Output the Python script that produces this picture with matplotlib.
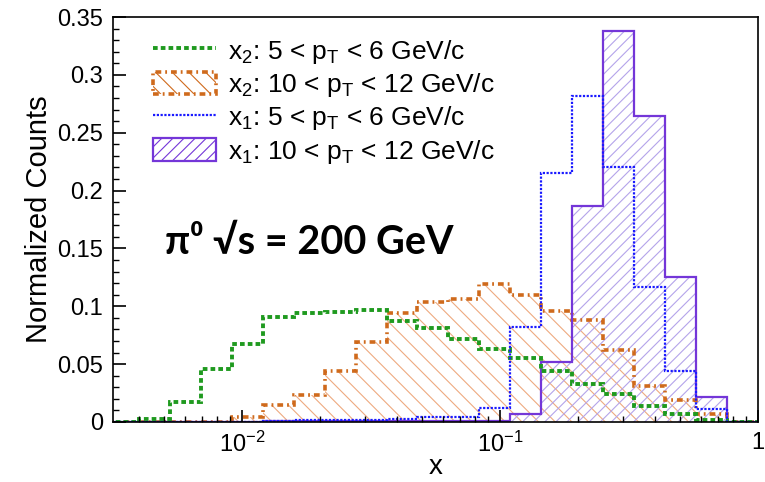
import numpy as np
import matplotlib
matplotlib.use("Agg")
import matplotlib.pyplot as plt
from matplotlib.lines import Line2D
from matplotlib.patches import Patch

plt.rcParams['font.family'] = ['Liberation Sans', 'DejaVu Sans']
plt.rcParams['mathtext.fontset'] = 'custom'
plt.rcParams['mathtext.rm'] = 'Liberation Sans'
plt.rcParams['mathtext.it'] = 'Liberation Sans'
plt.rcParams['hatch.linewidth'] = 0.8

# log-uniform binning, 0.12 decades per bin
edges = 10 ** np.linspace(-2.52, 0, 22)

# x2 (away side), 5 < pT < 6
x2_low = [0, 0.003, 0.017, 0.046, 0.067, 0.091, 0.094, 0.095, 0.097, 0.087, 0.081,
          0.072, 0.063, 0.055, 0.044, 0.033, 0.024, 0.014, 0.007, 0.002, 0.0]
# x2, 10 < pT < 12
x2_high = [0, 0, 0, 0, 0.0043, 0.0145, 0.023, 0.044, 0.069, 0.094, 0.104,
           0.106, 0.119, 0.110, 0.096, 0.088, 0.062, 0.031, 0.019, 0.0073, 0.0]
# x1 (trigger side), 5 < pT < 6
x1_low = [0, 0, 0, 0, 0, 0.001, 0.0015, 0.002, 0.002, 0.003, 0.004,
          0.004, 0.0125, 0.082, 0.215, 0.282, 0.220, 0.117, 0.044, 0.0116, 0]
# x1, 10 < pT < 12
x1_high = [0, 0, 0, 0, 0, 0.001, 0.001, 0.001, 0.001, 0.001, 0.001,
           0.001, 0.0005, 0.0072, 0.052, 0.1865, 0.338, 0.2645, 0.125, 0.0217, 0]

labels = [r"x$_2$: 5 < p$_T$ < 6 GeV/c",
          r"x$_2$: 10 < p$_T$ < 12 GeV/c",
          r"x$_1$: 5 < p$_T$ < 6 GeV/c",
          r"x$_1$: 10 < p$_T$ < 12 GeV/c"]

yticks = [0, 0.05, 0.1, 0.15, 0.2, 0.25, 0.3, 0.35]
yticklabels = ["0", "0.05", "0.1", "0.15", "0.2", "0.25", "0.3", "0.35"]

green = "#1f9a1f"
orange = "#cf6a1c"
orange_hatch = "#eeaa80"
blue = "#1a1aff"
purple = "#7436d8"
purple_hatch = "#b4a4ea"

green_ls = (0, (1.2, 0.8))
orange_ls = (0, (1.6, 1.1, 0.5, 1.1))
blue_ls = (0, (1, 0.7))

fig = plt.figure(figsize=(7.65, 4.82), dpi=100)
ax = fig.add_axes([0.1477, 0.1245, 0.8433, 0.8402])

# hatched fills first, outlines on top
ax.stairs(x2_high, edges, fill=True, facecolor='none', edgecolor=orange_hatch,
          hatch='\\\\', linewidth=0)
ax.stairs(x1_high, edges, fill=True, facecolor='none', edgecolor=purple_hatch,
          hatch='///', linewidth=0)

ax.stairs(x2_high, edges, color=orange, linewidth=2.6, linestyle=orange_ls)
ax.stairs(x1_high, edges, color=purple, linewidth=1.6)
ax.stairs(x2_low, edges, color=green, linewidth=2.8, linestyle=green_ls)
ax.stairs(x1_low, edges, color=blue, linewidth=1.6, linestyle=blue_ls)

ax.set_xscale('log')
ax.set_xlim(10 ** -2.5, 1)
ax.set_ylim(0, 0.35)
ax.set_yticks(yticks)
ax.set_yticklabels(yticklabels)
ax.yaxis.set_minor_locator(matplotlib.ticker.MultipleLocator(0.01))
ax.set_xticks([0.01, 0.1, 1])
ax.set_xticklabels([r"$10^{-2}$", r"$10^{-1}$", "1"])
ax.xaxis.set_minor_locator(matplotlib.ticker.LogLocator(base=10, subs=np.arange(2, 10)))
ax.xaxis.set_minor_formatter(matplotlib.ticker.NullFormatter())

ax.tick_params(axis='both', which='major', direction='in', length=9, width=1.2,
               labelsize=17, pad=7, top=False, right=False)
ax.tick_params(axis='both', which='minor', direction='in', length=4.5, width=1.0,
               top=False, right=False)
for s in ax.spines.values():
    s.set_linewidth(1.2)

ax.set_ylabel("Normalized Counts", fontsize=21, labelpad=3)
ax.set_xlabel("x", fontsize=20, labelpad=-2)

handles = [
    Line2D([], [], color=green, linewidth=2.8, linestyle=green_ls),
    Patch(facecolor='none', edgecolor=orange, hatch='\\\\', linewidth=2.6,
          linestyle=orange_ls),
    Line2D([], [], color=blue, linewidth=1.6, linestyle=blue_ls),
    Patch(facecolor='none', edgecolor=purple, hatch='///', linewidth=1.6),
]
ax.legend(handles, labels, loc='upper left', bbox_to_anchor=(0.045, 0.975),
          frameon=False, fontsize=19, handlelength=2.4, handleheight=0.95,
          labelspacing=0.2, handletextpad=0.45, borderaxespad=0)

ax.text(0.08, 0.444, "π⁰ √s = 200 GeV", transform=ax.transAxes,
        fontsize=28.5, fontweight='bold', family=['Lato', 'DejaVu Sans'],
        va='center', ha='left')

fig.savefig("out.png", dpi=100)
